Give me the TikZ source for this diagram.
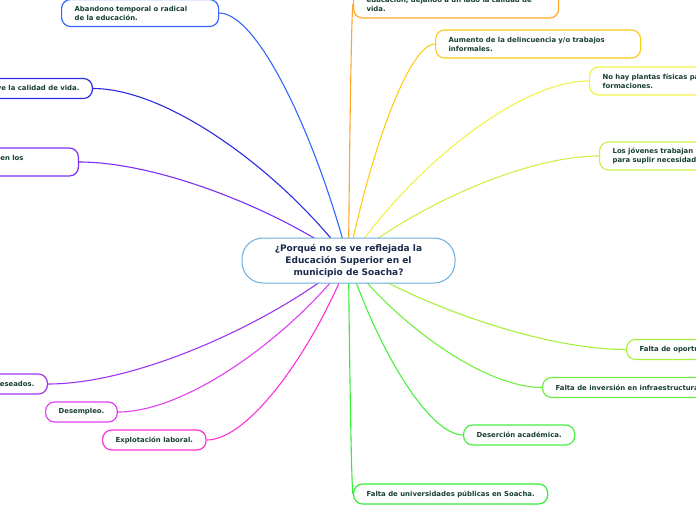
\documentclass[tikz,border=0pt]{standalone}
\usepackage{fontspec}
\setmainfont{DejaVu Sans}
\usetikzlibrary{calc,backgrounds}
\definecolor{txt}{HTML}{17402F}
\definecolor{ctxt}{HTML}{1A2B4C}
\definecolor{cborder}{HTML}{6AAEDD}
\definecolor{cA}{HTML}{3366FF}
\definecolor{cB}{HTML}{2B2BE8}
\definecolor{cC}{HTML}{7A30F5}
\definecolor{cD}{HTML}{A035F0}
\definecolor{cE}{HTML}{E040F0}
\definecolor{cF}{HTML}{FF30D5}
\definecolor{cG}{HTML}{FFA52A}
\definecolor{cH}{HTML}{FFCC1A}
\definecolor{cI}{HTML}{F2F24A}
\definecolor{cJ}{HTML}{CCF24A}
\definecolor{cK}{HTML}{A8F040}
\definecolor{cL}{HTML}{70F040}
\definecolor{cM}{HTML}{48F040}
\definecolor{cN}{HTML}{33EE33}
\tikzset{
  leaf/.style={draw=#1, line width=1.2pt, rounded corners=9pt, fill=white, text=txt,
    font=\fontsize{6.9}{9}\selectfont\bfseries, inner xsep=13pt, inner ysep=0pt,
    minimum height=20pt, align=left},
  twoline/.style={minimum height=28pt},
  hub/.style={draw=cborder, line width=1pt, rounded corners=21pt, fill=white, text=ctxt,
    font=\fontsize{9}{12}\selectfont\bfseries, minimum width=213pt, minimum height=45pt,
    align=center, inner sep=0pt},
  link/.style={draw=#1, line width=1.1pt}
}
\newcommand\branchto[2]{%
  \draw[link=#1] let \p1=(c.center), \p2=(#2) in
    (\p2) .. controls ({\x2+0.3*(\x1-\x2)},{\y2}) and ({\x1-0.25*(\x1-\x2)},{\y1-0.5*(\y1-\y2)}) .. (\p1);}
\begin{document}
\begin{tikzpicture}[x=1pt,y=-1pt]
\useasboundingbox (0,0) rectangle (696,520);
\node[hub] (c) at (348.5,260.5) {¿Porqué no se ve reflejada la\\Educación Superior en el\\municipio de Soacha?};

\node[leaf=cA, anchor=west, text width=131pt, minimum height=27pt] (n1) at (61,13) {Abandono temporal o radical\\de la educación.};
\node[leaf=cB, anchor=east] (n2) at (93,88.5) {Disminuye la calidad de vida.};
\node[leaf=cC, anchor=east, twoline, text width=72pt] (n3) at (79,162) {o en los\\\mbox{}};
\node[leaf=cD, anchor=east] (n4) at (48,384) {deseados.};
\node[leaf=cE, anchor=west] (n5) at (45,412) {Desempleo.};
\node[leaf=cF, anchor=west] (n6) at (102,440) {Explotación laboral.};

\node[leaf=cG, anchor=west, twoline, text width=179pt] (n7) at (353,4) {educación, dejando a un lado la calidad de\\vida.};
\node[leaf=cH, anchor=west, twoline, text width=179pt] (n8) at (435,44) {Aumento de la delincuencia y/o trabajos\\informales.};
\node[leaf=cI, anchor=west, twoline, text width=200pt] (n9) at (589,81) {No hay plantas físicas para las\\formaciones.};
\node[leaf=cJ, anchor=west, twoline, text width=200pt] (n10) at (599,156) {Los jóvenes trabajan\\para suplir necesidades.};
\node[leaf=cK, anchor=west] (n11) at (626,349.5) {Falta de oportunidades.};
\node[leaf=cL, anchor=west] (n12) at (542,387.5) {Falta de inversión en infraestructura.};
\node[leaf=cM, anchor=west] (n13) at (463,435) {Deserción académica.};
\node[leaf=cN, anchor=west] (n14) at (353,494) {Falta de universidades públicas en Soacha.};

\begin{scope}[on background layer]
\fill[white] (0,0) rectangle (696,520);
\branchto{cA}{n1.east}
\branchto{cB}{n2.east}
\branchto{cC}{n3.east}
\branchto{cD}{n4.east}
\branchto{cE}{n5.east}
\branchto{cF}{n6.east}
\branchto{cG}{n7.west}
\branchto{cH}{n8.west}
\branchto{cI}{n9.west}
\branchto{cJ}{n10.west}
\branchto{cK}{n11.west}
\branchto{cL}{n12.west}
\branchto{cM}{n13.west}
\branchto{cN}{n14.west}
\end{scope}
\end{tikzpicture}
\end{document}
